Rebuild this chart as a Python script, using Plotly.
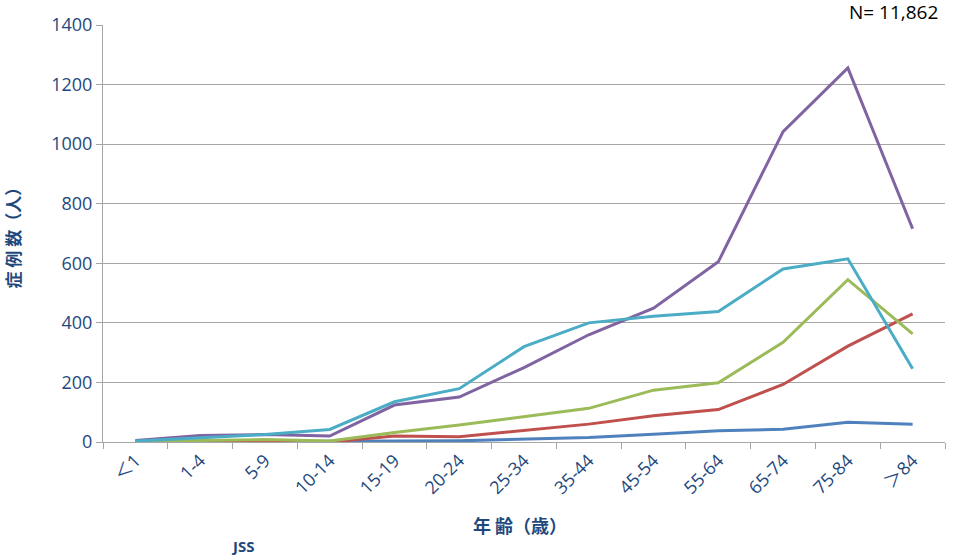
import plotly.graph_objects as go

categories = ["＜1", "1-4", "5-9", "10-14", "15-19", "20-24", "25-34", "35-44",
              "45-54", "55-64", "65-74", "75-84", "＞84"]
series_blue = [1, 1, 1, 1, 3, 4, 9, 15, 26, 38, 43, 66, 60]
series_red = [1, 2, 2, 0, 20, 18, 38, 60, 88, 109, 193, 322, 430]
series_green = [2, 5, 8, 3, 32, 57, 85, 113, 174, 199, 335, 545, 363]
series_purple = [5, 22, 25, 20, 124, 151, 250, 360, 449, 605, 1042, 1256, 716]
series_cyan = [3, 15, 25, 42, 135, 179, 320, 400, 422, 438, 581, 615, 246]

series = [
    ("s1", series_blue, "#4F81BD"),
    ("s2", series_red, "#C0504D"),
    ("s3", series_green, "#9BBB59"),
    ("s4", series_purple, "#8064A2"),
    ("s5", series_cyan, "#4BACC6"),
]

fig = go.Figure()
for name, vals, col in series:
    fig.add_trace(go.Scatter(x=categories, y=vals, mode="lines", name=name,
                             line=dict(color=col, width=3), hoverinfo="skip"))

txt = "#1F497D"
fam = "Open Sans, Noto Sans CJK JP, sans-serif"
fig.update_layout(
    width=957, height=558,
    margin=dict(l=103, r=12, t=23, b=116),
    paper_bgcolor="white", plot_bgcolor="white",
    showlegend=False,
    font=dict(family=fam, color=txt),
    xaxis=dict(type="category", tickson="boundaries", ticks="outside", ticklen=6,
               tickcolor="#A6A6A6", showline=True, linecolor="#A6A6A6", linewidth=1,
               showgrid=False, tickangle=-45, tickfont=dict(size=18, color=txt),
               range=[-0.5, 12.5]),
    yaxis=dict(range=[0, 1400], dtick=200, ticks="outside", ticklen=6,
               tickcolor="#A6A6A6", showline=True, linecolor="#A6A6A6", linewidth=1,
               showgrid=True, gridcolor="#A6A6A6", gridwidth=1, zeroline=False,
               tickfont=dict(size=18, color=txt)),
    annotations=[
        dict(text="<b>年&nbsp;齢（歳）</b>", xref="paper", yref="paper",
             x=(520 - 103) / 842, y=-(525 - 442) / 419, xanchor="center", yanchor="middle",
             showarrow=False, font=dict(size=18, color=txt,
                                        family="Noto Sans CJK JP, sans-serif")),
        dict(text="<b>症&nbsp;例&nbsp;数（人）</b>", xref="paper", yref="paper",
             x=(12 - 103) / 842, y=0.5, xanchor="center", yanchor="middle",
             textangle=-90, showarrow=False,
             font=dict(size=17, color=txt, family="Noto Sans CJK JP, sans-serif")),
        dict(text="N= 11,862", xref="paper", yref="paper",
             x=(893 - 103) / 842, y=(442 - 10) / 419,
             xanchor="center", yanchor="middle", showarrow=False,
             font=dict(size=19, color="black")),
        dict(text="<b>JSS</b>", xref="paper", yref="paper",
             x=(243 - 103) / 842, y=-(546 - 442) / 419,
             xanchor="center", yanchor="middle", showarrow=False,
             font=dict(size=15, color=txt)),
    ],
)
fig.write_html("out.html")
